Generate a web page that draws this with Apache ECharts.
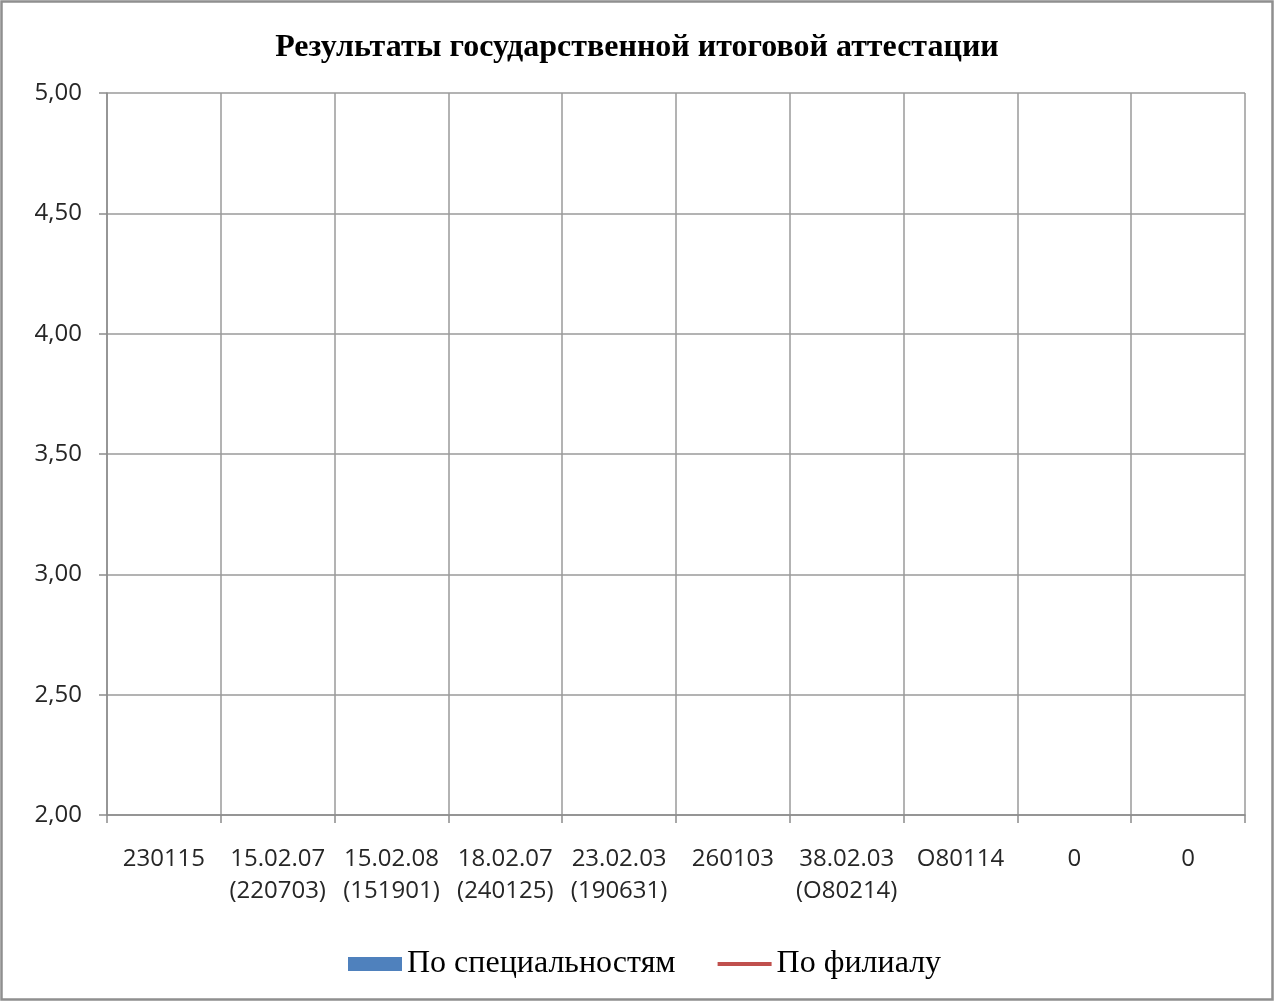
<!DOCTYPE html>
<html>
<head>
<meta charset="utf-8">
<script src="https://cdn.jsdelivr.net/npm/echarts@6/dist/echarts.min.js"></script>
<style>
  html, body { margin: 0; padding: 0; background: #ffffff; }
  #chart { width: 1274px; height: 1001px; }
</style>
</head>
<body>
<div id="chart"></div>
<script>
// Specialty codes along the horizontal axis
const categories = [
  '230115',
  '15.02.07\n(220703)',
  '15.02.08\n(151901)',
  '18.02.07\n(240125)',
  '23.02.03\n(190631)',
  '260103',
  '38.02.03\n(О80214)',
  'О80114',
  '0',
  '0'
];

// Average exam scores per specialty and for the whole branch
const bySpecialty = [0, 0, 0, 0, 0, 0, 0, 0, 0, 0];
const byBranch = [0, 0, 0, 0, 0, 0, 0, 0, 0, 0];

// Score scale
const yMin = 2;
const yMax = 5;
const yStep = 0.5;

const chart = echarts.init(document.getElementById('chart'), null, { renderer: 'canvas' });

const axisGrey = '#8c8c8c';
const labelFont = '"Open Sans", "DejaVu Sans", sans-serif';
const serifFont = '"Liberation Serif", "DejaVu Serif", serif';

chart.setOption({
  animation: false,
  backgroundColor: '#ffffff',
  title: {
    text: 'Результаты государственной итоговой аттестации',
    left: 'center',
    top: 27,
    textStyle: {
      fontFamily: serifFont,
      fontWeight: 'bold',
      fontSize: 32,
      color: '#000000'
    }
  },
  legend: {
    bottom: 16,
    left: 343,
    itemGap: 42,
    itemWidth: 54,
    itemHeight: 14,
    textStyle: {
      fontFamily: serifFont,
      fontSize: 32,
      color: '#000000'
    },
    data: [
      { name: 'По специальностям', icon: 'rect' },
      { name: 'По филиалу', icon: 'path://M0,0H56V4H0Z' }
    ]
  },
  grid: {
    left: 107,
    right: 29,
    top: 93,
    bottom: 186,
    containLabel: false
  },
  xAxis: {
    type: 'category',
    data: categories,
    boundaryGap: true,
    axisLine: { show: true, lineStyle: { color: axisGrey, width: 1.5 } },
    axisTick: { show: true, length: 8, alignWithLabel: false, lineStyle: { color: axisGrey, width: 1.5 } },
    splitLine: { show: true, lineStyle: { color: '#9a9a9a', width: 1.5 } },
    axisLabel: {
      interval: 0,
      margin: 28,
      fontFamily: labelFont,
      fontSize: 24,
      lineHeight: 32,
      color: '#262626'
    }
  },
  yAxis: {
    type: 'value',
    min: yMin,
    max: yMax,
    interval: yStep,
    axisLine: { show: true, lineStyle: { color: axisGrey, width: 1.5 } },
    axisTick: { show: true, length: 8, lineStyle: { color: axisGrey, width: 1.5 } },
    splitLine: { show: true, lineStyle: { color: '#9a9a9a', width: 1.5 } },
    axisLabel: {
      margin: 25,
      fontFamily: labelFont,
      fontSize: 24,
      color: '#262626',
      formatter: v => v.toFixed(2).replace('.', ',')
    }
  },
  graphic: [{
    type: 'rect',
    shape: { x: 1.5, y: 1.5, width: 1271, height: 998 },
    style: { fill: 'none', stroke: '#8f8f8f', lineWidth: 2.5 },
    silent: true,
    z: 100
  }],
  series: [
    {
      name: 'По специальностям',
      type: 'bar',
      data: bySpecialty,
      barWidth: '50%',
      itemStyle: { color: '#4F81BD' },
      clip: true
    },
    {
      name: 'По филиалу',
      type: 'line',
      data: byBranch,
      symbol: 'none',
      lineStyle: { color: '#C0504D', width: 4 },
      itemStyle: { color: '#C0504D' },
      clip: true
    }
  ]
});
</script>
</body>
</html>
